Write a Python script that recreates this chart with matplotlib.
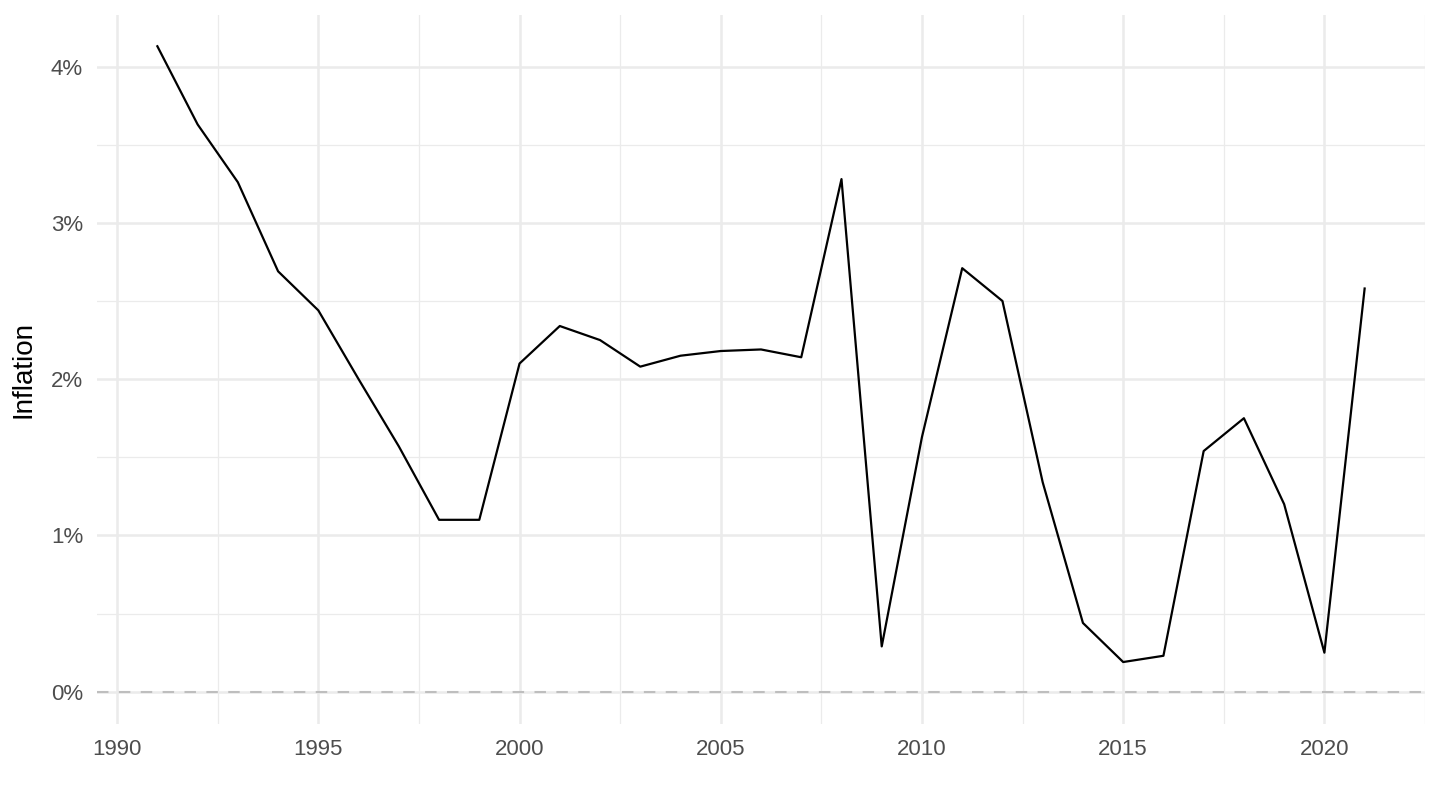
import matplotlib
matplotlib.use("Agg")
import matplotlib.pyplot as plt
from matplotlib.ticker import FixedLocator, FuncFormatter

years = list(range(1991, 2022))
inflation = [4.13, 3.63, 3.26, 2.69, 2.44, 2.00, 1.57, 1.10, 1.10, 2.10,
             2.34, 2.25, 2.08, 2.15, 2.18, 2.19, 2.14, 3.28, 0.29, 1.63,
             2.71, 2.50, 1.34, 0.44, 0.19, 0.23, 1.54, 1.75, 1.20, 0.25, 2.58]
x_ticks = [1990, 1995, 2000, 2005, 2010, 2015, 2020]
y_ticks = [0, 1, 2, 3, 4]

plt.rcParams['font.family'] = ['Liberation Sans', 'DejaVu Sans']
fig = plt.figure(figsize=(14.4, 8.1), dpi=100)
ax = fig.add_axes([97/1440, 86/810, (1425-97)/1440, (724-15)/810])

ax.set_xlim(1989.5, 2022.5)
ax.set_ylim(-0.2065, 4.33)

ax.xaxis.set_major_locator(FixedLocator(x_ticks))
ax.xaxis.set_minor_locator(FixedLocator([t + 2.5 for t in [1985] + x_ticks]))
ax.yaxis.set_major_locator(FixedLocator(y_ticks))
ax.yaxis.set_minor_locator(FixedLocator([0.5, 1.5, 2.5, 3.5]))
ax.yaxis.set_major_formatter(FuncFormatter(lambda v, p: f"{v:.0f}%"))

ax.grid(which='major', color='#EBEBEB', linewidth=1.8)
ax.grid(which='minor', color='#EBEBEB', linewidth=0.9)
ax.set_axisbelow(True)
for s in ax.spines.values():
    s.set_visible(False)
ax.tick_params(which='both', length=0, labelsize=16, labelcolor='#4D4D4D')
ax.tick_params(axis='y', pad=10)
ax.tick_params(axis='x', pad=11)

ax.axhline(0, color='#BEBEBE', linestyle=(0, (5.5, 5)), linewidth=1.5)
ax.plot(years, inflation, color='black', linewidth=1.6)

ax.set_ylabel('Inflation', fontsize=20, color='black', labelpad=10)

fig.savefig('out.png', dpi=100, facecolor='white')
